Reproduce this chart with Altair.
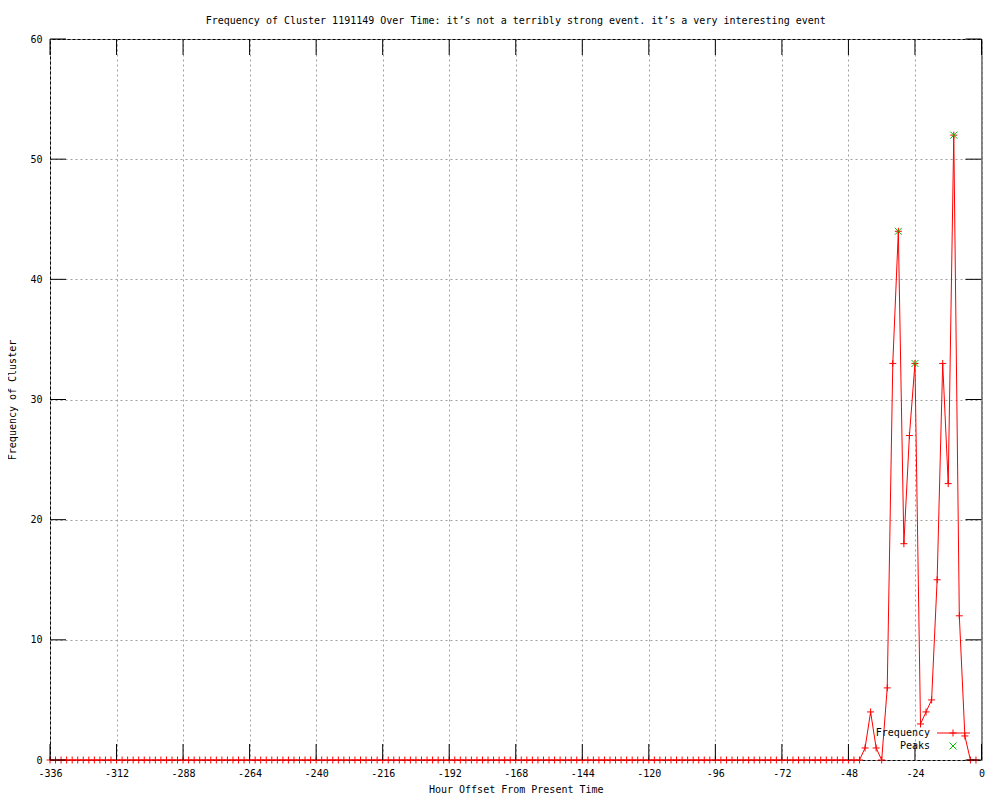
import altair as alt
import pandas as pd

# ---- data ----
hours = list(range(-336, 0, 2))  # one sample every 2 hours
freq = [0] * 147 + [1, 4, 1, 0, 6, 33, 44, 18, 27, 33, 3, 4, 5, 15, 33, 23, 52, 12, 2, 0, 0]
peak_hours = [-30, -24, -10]
peak_vals = [44, 33, 52]
x_ticks = list(range(-336, 1, 24))
y_ticks = [0, 10, 20, 30, 40, 50, 60]
legend_labels = ["Frequency", "Peaks"]

TITLE = "Frequency of Cluster 1191149 Over Time: it’s not a terribly strong event. it’s a very interesting event"
FONT = "DejaVu Sans Mono"
W, H = 931.5, 721
TICK = 16
RED = "#ff0000"
GREEN = "#00c000"
PLUS = "M-1,0L1,0M0,-1L0,1"
XMARK = "M-1,-1L1,1M-1,1L1,-1"

df = pd.DataFrame({"hour": hours, "freq": freq})
peaks = pd.DataFrame({"hour": peak_hours, "freq": peak_vals})
xt = pd.DataFrame({"v": x_ticks})
yt = pd.DataFrame({"v": y_ticks})

xscale = alt.Scale(domain=[-336, 0], nice=False, zero=False)
yscale = alt.Scale(domain=[0, 60], nice=False)

xaxis = alt.Axis(values=x_ticks, title="Hour Offset From Present Time", grid=True,
                 gridColor="#a0a0a0", gridDash=[2, 3], gridWidth=1, ticks=False, domain=False,
                 labelFont=FONT, labelFontSize=10, labelColor="black", labelPadding=8,
                 labelExpr="'' + datum.value", labelFlush=False,
                 titleFont=FONT, titleFontSize=10, titleFontWeight="normal", titleColor="black",
                 titlePadding=6)
yaxis = alt.Axis(values=y_ticks, title="Frequency of Cluster", grid=True,
                 gridColor="#a0a0a0", gridDash=[2, 3], gridWidth=1, ticks=False, domain=False,
                 labelFont=FONT, labelFontSize=10, labelColor="black", labelPadding=8,
                 labelExpr="'' + datum.value",
                 titleFont=FONT, titleFontSize=10, titleFontWeight="normal", titleColor="black",
                 titlePadding=12)

base = alt.Chart(df)
line = base.mark_line(color=RED, strokeWidth=1).encode(
    x=alt.X("hour:Q", scale=xscale, axis=xaxis),
    y=alt.Y("freq:Q", scale=yscale, axis=yaxis),
)
pts = base.mark_point(shape=PLUS, color=RED, size=49, strokeWidth=1, filled=False, opacity=1).encode(
    x=alt.X("hour:Q", scale=xscale), y=alt.Y("freq:Q", scale=yscale))
pk = alt.Chart(peaks).mark_point(shape=XMARK, color=GREEN, size=49, strokeWidth=1, filled=False, opacity=1).encode(
    x=alt.X("hour:Q", scale=xscale), y=alt.Y("freq:Q", scale=yscale))

# inward ticks on all four sides
xb = alt.Chart(xt).mark_rule(color="black", strokeWidth=1).encode(
    x=alt.X("v:Q", scale=xscale), y=alt.value(H), y2=alt.value(H - TICK))
xtop = alt.Chart(xt).mark_rule(color="black", strokeWidth=1).encode(
    x=alt.X("v:Q", scale=xscale), y=alt.value(0), y2=alt.value(TICK))
yl = alt.Chart(yt).mark_rule(color="black", strokeWidth=1).encode(
    y=alt.Y("v:Q", scale=yscale), x=alt.value(0), x2=alt.value(TICK))
yr = alt.Chart(yt).mark_rule(color="black", strokeWidth=1).encode(
    y=alt.Y("v:Q", scale=yscale), x=alt.value(W), x2=alt.value(W - TICK))

# legend (gnuplot style: text at left, sample at right)
leg_df = pd.DataFrame({"label": legend_labels})
LX, LY, LSTEP = 880, 694, 13
leg_t1 = alt.Chart(leg_df[leg_df.label == legend_labels[0]]).mark_text(
    align="right", baseline="middle", font=FONT, fontSize=10, color="black").encode(
    x=alt.value(LX), y=alt.value(LY), text="label:N")
leg_t2 = alt.Chart(leg_df[leg_df.label == legend_labels[1]]).mark_text(
    align="right", baseline="middle", font=FONT, fontSize=10, color="black").encode(
    x=alt.value(LX), y=alt.value(LY + LSTEP), text="label:N")
leg_line = alt.Chart(leg_df[leg_df.label == legend_labels[0]]).mark_rule(color=RED, strokeWidth=1).encode(
    x=alt.value(LX + 7), x2=alt.value(LX + 40), y=alt.value(LY))
leg_plus = alt.Chart(leg_df[leg_df.label == legend_labels[0]]).mark_point(
    shape=PLUS, color=RED, size=49, strokeWidth=1, filled=False, opacity=1).encode(
    x=alt.value(LX + 23), y=alt.value(LY))
leg_x = alt.Chart(leg_df[leg_df.label == legend_labels[1]]).mark_point(
    shape=XMARK, color=GREEN, size=49, strokeWidth=1, filled=False, opacity=1).encode(
    x=alt.value(LX + 23), y=alt.value(LY + LSTEP))

chart = alt.layer(line, pts, xb, xtop, yl, yr, leg_t1, leg_t2, leg_line, leg_plus, leg_x, pk).properties(
    width=W, height=H,
    title=alt.TitleParams(text=TITLE, font=FONT, fontSize=10, fontWeight="normal", color="black",
                          anchor="middle", offset=8),
    autosize=alt.AutoSizeParams(type="none"),
    padding={"left": 42, "top": 31, "right": 10, "bottom": 40},
).configure(background="white").configure_view(stroke="black", strokeWidth=1)

chart.save("out.html", embed_options={"renderer": "svg", "actions": False})
